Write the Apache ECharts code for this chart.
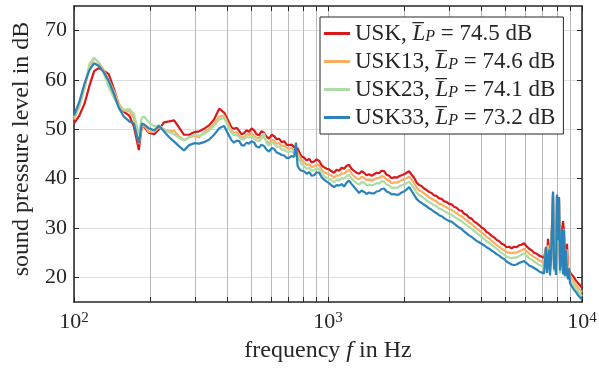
<!DOCTYPE html>
<html><head><meta charset="utf-8">
<script src="https://cdn.jsdelivr.net/npm/echarts@6/dist/echarts.min.js"></script>
<style>html,body{margin:0;padding:0;background:#fff}#c{width:599px;height:372px}</style>
</head><body><div id="c"></div>
<script>
// frequency in Hz
const freq = [
100,105,110,115,120,125,131,137,144,150,157,165,172,180,185,
189,197,207,216,226,237,248,259,271,284,297,311,325,340,356,373,390,
408,417,427,437,447,457,467,478,489,500,
512,523,535,547,560,573,586,600,614,628,
642,657,672,687,703,719,736,748,759,770,
787,805,824,843,862,882,902,923,944,966,
988,1010,1033,1057,1081,1106,1131,1157,1184,1211,
1239,1267,1296,1326,1356,1387,1419,1452,1485,1519,
1554,1589,1626,1663,1701,1740,1780,1821,1862,1905,
1949,1993,2039,2086,2134,2183,2233,2284,2336,2390,
2444,2500,2557,2616,2676,2738,2801,2865,2930,2997,
3066,3136,3208,3282,3357,3434,3513,3593,3676,3760,
3846,3934,4024,4117,4211,4307,4406,4507,4610,4716,
4824,4935,5048,5163,5282,5403,5526,5653,5782,5915,
6051,6190,6332,6477,6625,6777,6932,7091,
7150,7216,7282,7348,7415,7482,7551,7619,7689,7759,7830,7900,7973,8045,8118,8193,8267,8343,8419,8495,8573,8650,8729,8809,8888,8970,
9133,9301,9471,9644,9820,10000];

// sound pressure level in dB
const usk = [
51.2,52.8,55.2,58.8,61.8,62.4,61.9,61.2,58.0,55.0,53.6,52.8,50.6,45.8,50.8,
50.5,49.3,49.0,50.0,51.4,51.6,51.8,50.4,48.9,48.9,49.4,49.6,50.1,50.8,52.0,54.2,53.4,
51.4,50.4,50.1,50.3,49.7,49.0,49.2,49.8,49.5,50.2,
49.8,49.0,48.8,49.6,49.3,48.5,48.1,48.9,48.6,48.0,
48.1,47.4,47.6,46.9,46.8,46.9,46.4,46.0,46.1,45.4,
44.5,44.3,43.7,44.0,43.3,43.5,43.9,43.6,42.7,42.3,
42.0,41.9,41.5,41.2,41.8,41.6,42.2,42.0,42.6,42.8,
42.0,41.6,41.2,41.0,41.5,41.2,40.7,40.9,40.6,40.9,
41.2,41.1,41.6,41.5,40.8,40.6,40.1,40.3,40.2,40.5,
40.7,40.9,41.2,41.5,40.8,40.2,39.2,38.7,38.5,38.0,
37.7,37.3,37.1,36.6,36.5,36.0,35.9,35.4,35.3,34.9,
34.8,34.3,34.1,33.6,33.5,32.9,32.7,32.1,31.9,31.3,
31.0,30.6,30.1,29.8,29.2,28.9,28.4,28.1,27.6,27.3,
26.8,26.6,26.1,26.2,25.9,26.2,26.1,26.5,26.6,26.9,
26.3,25.8,25.5,25.0,24.8,24.4,24.2,23.9,
23.6,26.0,23.4,27.8,25.4,23.2,23.8,30.2,37.0,23.0,24.5,22.8,36.5,27.2,36.0,22.6,23.4,29.5,31.4,29.2,22.4,25.3,26.8,22.0,22.3,21.0,
20.5,20.0,19.3,18.9,18.4,17.9];

const usk13 = [
52.0,54.6,58.3,62.6,64.4,63.6,62.0,60.0,57.6,55.2,53.8,53.7,52.4,47.0,50.6,
50.8,49.5,49.6,50.4,50.0,49.6,49.7,48.6,47.8,48.4,48.6,48.4,49.4,50.1,51.1,52.6,52.8,
50.6,49.7,49.3,49.4,48.8,48.3,48.4,49.0,48.9,49.2,
48.7,48.3,48.2,48.7,48.4,47.6,47.2,47.9,47.7,47.1,
47.2,46.6,46.7,46.2,46.1,46.2,45.8,45.4,45.3,44.7,
43.7,43.3,42.8,42.9,42.4,42.5,42.9,42.7,41.8,41.3,
41.1,40.9,40.6,40.2,40.7,40.6,41.1,41.0,41.5,41.8,
41.0,40.5,40.1,39.9,40.4,40.2,39.7,39.8,39.6,39.8,
40.1,40.1,40.5,40.4,39.8,39.6,39.1,39.2,39.2,39.4,
39.7,39.8,40.1,40.4,39.8,39.1,38.2,37.6,37.4,37.0,
36.6,36.2,36.0,35.6,35.4,34.9,34.8,34.4,34.2,33.8,
33.7,33.3,33.0,32.6,32.4,31.9,31.6,31.1,30.8,30.3,
29.9,29.5,29.1,28.7,28.2,27.9,27.4,27.0,26.6,26.2,
25.8,25.5,25.1,25.0,24.9,25.0,25.0,25.3,25.5,25.8,
25.3,24.8,24.5,24.1,23.8,23.4,23.2,22.9,
22.6,25.8,22.4,26.5,25.2,22.2,23.4,30.0,36.8,22.0,24.2,21.8,36.3,27.0,35.8,21.6,23.0,29.2,29.8,29.0,21.4,25.0,25.6,21.0,21.5,20.1,
19.6,19.0,18.4,17.9,17.4,17.0];

const usk23 = [
52.4,54.9,58.8,63.2,64.6,63.4,61.3,58.6,56.3,54.6,54.0,54.1,53.2,49.0,52.4,
52.6,51.4,50.6,50.8,50.0,49.4,49.0,48.3,47.8,48.4,48.9,48.7,49.1,49.7,50.7,52.0,52.4,
50.1,49.3,48.8,48.9,48.4,47.9,48.0,48.5,48.3,48.7,
48.1,47.8,47.6,48.1,49.2,47.2,46.7,47.4,47.1,46.5,
46.5,45.9,45.9,45.5,45.4,45.6,45.1,44.8,44.6,43.9,
43.0,42.5,42.0,42.2,41.6,41.7,42.1,41.9,41.1,40.5,
40.2,40.0,39.7,39.3,39.7,39.6,40.1,40.0,40.5,40.8,
40.0,39.5,39.1,38.8,39.3,39.2,38.7,38.8,38.6,38.8,
39.1,39.0,39.5,39.4,38.8,38.6,38.1,38.2,38.1,38.4,
38.7,38.8,39.1,39.4,38.8,38.1,37.2,36.7,36.4,36.0,
35.6,35.2,35.0,34.6,34.4,33.9,33.8,33.4,33.2,32.8,
32.7,32.3,32.0,31.6,31.4,31.0,30.6,30.2,29.9,29.4,
29.0,28.6,28.2,27.8,27.3,27.0,26.6,26.2,25.8,25.4,
24.9,24.6,24.2,24.0,23.9,24.0,24.0,24.3,24.6,24.9,
24.4,23.9,23.6,23.2,22.9,22.5,22.3,22.0,
21.7,25.6,21.5,25.4,25.0,21.3,23.2,29.8,36.6,21.2,24.0,21.0,36.0,26.8,35.6,20.8,22.8,29.0,28.5,28.8,20.7,24.8,24.5,20.3,21.0,19.3,
18.9,18.3,17.7,17.2,16.6,16.2];

const usk33 = [
52.8,55.6,59.3,62.0,63.4,62.9,61.6,59.8,57.0,54.4,52.6,51.6,51.2,47.2,51.2,
51.0,50.2,49.8,50.7,49.6,48.4,47.5,46.6,45.7,46.8,47.2,47.1,47.4,47.9,48.9,50.2,50.7,
48.7,47.8,47.3,47.7,47.6,46.8,46.7,47.3,47.1,47.6,
47.3,46.5,46.3,46.9,46.6,45.9,45.5,46.2,46.0,45.3,
45.1,44.8,44.7,44.2,44.2,44.6,44.4,47.3,42.6,42.0,
41.6,41.5,41.0,41.3,40.6,40.7,41.3,41.2,40.3,39.8,
39.4,39.1,38.6,38.3,38.7,38.6,38.9,38.4,39.2,39.6,
38.9,38.3,37.7,37.1,37.6,37.3,36.9,37.2,37.0,37.0,
37.4,37.5,37.9,38.0,37.4,37.2,36.8,36.9,36.7,36.8,
37.2,37.4,37.8,38.3,37.5,36.7,35.9,35.4,35.1,34.7,
34.4,34.0,33.7,33.3,33.0,32.6,32.4,32.0,31.7,31.4,
31.3,30.9,30.5,30.1,29.8,29.3,28.9,28.5,28.2,27.8,
27.4,27.1,26.8,26.5,26.1,25.8,25.4,25.1,24.7,24.4,
24.0,23.7,23.2,22.9,22.6,22.5,22.6,22.9,23.1,23.3,
22.9,22.4,22.2,21.9,21.6,21.2,21.0,20.8,
20.6,26.2,20.9,23.0,25.6,20.4,23.8,30.5,37.4,21.6,24.6,20.5,36.8,27.5,36.3,21.4,23.5,29.8,20.6,29.6,20.2,25.5,20.8,19.6,21.8,18.8,
18.1,17.5,17.0,16.4,15.9,15.5];

const seriesNames = ['USK', 'USK13', 'USK23', 'USK33'];
const meanLevels = ['74.5', '74.6', '74.1', '73.2'];
const xTickValues = [100,200,300,400,500,600,700,800,900,1000,2000,3000,4000,5000,6000,7000,8000,9000,10000];
const xLabelValues = [100, 1000, 10000];
const yTickValues = [20, 30, 40, 50, 60, 70];

const colors = ['#d7191c', '#fdae61', '#abdda4', '#2b83ba'];
const FONT = 'Liberation Serif';
const INK = '#262626';
const seriesData = [usk, usk13, usk23, usk33];

const chart = echarts.init(document.getElementById('c'), null, {renderer: 'canvas'});

const axisLineStyle = {color: INK, width: 1.5};
const xAxisCommon = {
  type: 'log', logBase: 10, min: 100, max: 10000,
  axisLine: {show: true, lineStyle: axisLineStyle},
  axisTick: {show: true, inside: true, length: 5, customValues: xTickValues, lineStyle: {color: INK, width: 1}},
};
const yAxisCommon = {
  type: 'value', min: 15, max: 75,
  axisLine: {show: true, lineStyle: axisLineStyle},
  axisTick: {show: true, inside: true, length: 5, customValues: yTickValues, lineStyle: {color: INK, width: 1}},
};

const option = {
  animation: false,
  backgroundColor: '#fff',
  color: colors,
  grid: {left: 74, right: 17, top: 6, bottom: 70, containLabel: false, outerBoundsMode: 'none'},
  xAxis: [
    Object.assign({}, xAxisCommon, {
      position: 'bottom',
      axisLabel: {
        customValues: xLabelValues, margin: 9, color: INK,
        formatter: v => '{n|10}{s|' + Math.round(Math.log10(v)) + '}',
        rich: {
          n: {fontFamily: FONT, fontSize: 22, color: INK},
          s: {fontFamily: FONT, fontSize: 15, color: INK, verticalAlign: 'top'}
        }
      },
      splitLine: {show: true, lineStyle: {color: '#b9b9b9', width: 1}},
      name: 'frequency {i|f} in Hz',
      nameLocation: 'middle', nameGap: 37,
      nameTextStyle: {
        fontFamily: FONT, fontSize: 24, color: INK,
        rich: {i: {fontFamily: FONT, fontSize: 24, fontStyle: 'italic', color: INK}}
      }
    }),
    Object.assign({}, xAxisCommon, {
      position: 'top',
      axisLabel: {show: false},
      splitLine: {show: false}
    })
  ],
  yAxis: [
    Object.assign({}, yAxisCommon, {
      position: 'left',
      axisLabel: {customValues: yTickValues, margin: 7, fontFamily: FONT, fontSize: 22, color: INK},
      splitLine: {show: true, lineStyle: {color: '#dedede', width: 1}},
      name: 'sound pressure level in dB',
      nameLocation: 'middle', nameGap: 40,
      nameTextStyle: {fontFamily: FONT, fontSize: 24, color: INK, padding: [0, 0, 0, 10]}
    }),
    Object.assign({}, yAxisCommon, {
      position: 'right',
      axisLabel: {show: false},
      splitLine: {show: false}
    })
  ],
  legend: {
    show: true,
    orient: 'vertical',
    left: 320, top: 17,
    padding: [5, 8, 5, 4],
    itemGap: 5,
    itemWidth: 26, itemHeight: 3,
    icon: 'rect',
    borderColor: INK, borderWidth: 1, borderRadius: 0,
    backgroundColor: '#fff',
    data: seriesNames,
    formatter: name => {
      const i = seriesNames.indexOf(name);
      return name + ', {it|L\u0305}{sub|P} = ' + meanLevels[i] + ' dB';
    },
    textStyle: {
      fontFamily: FONT, fontSize: 23, color: INK, lineHeight: 22,
      rich: {
        it: {fontFamily: FONT, fontSize: 23, fontStyle: 'italic', color: INK},
        sub: {fontFamily: FONT, fontSize: 16, fontStyle: 'italic', color: INK, verticalAlign: 'bottom'}
      }
    }
  },
  series: seriesNames.map((name, s) => ({
    name: name,
    type: 'line',
    xAxisIndex: 0, yAxisIndex: 0,
    showSymbol: false,
    symbol: 'none',
    lineStyle: {width: 2.2, color: colors[s]},
    itemStyle: {color: colors[s]},
    z: 2 + s,
    data: freq.map((f, i) => [f, seriesData[s][i]])
  }))
};

chart.setOption(option);
</script>
</body></html>
